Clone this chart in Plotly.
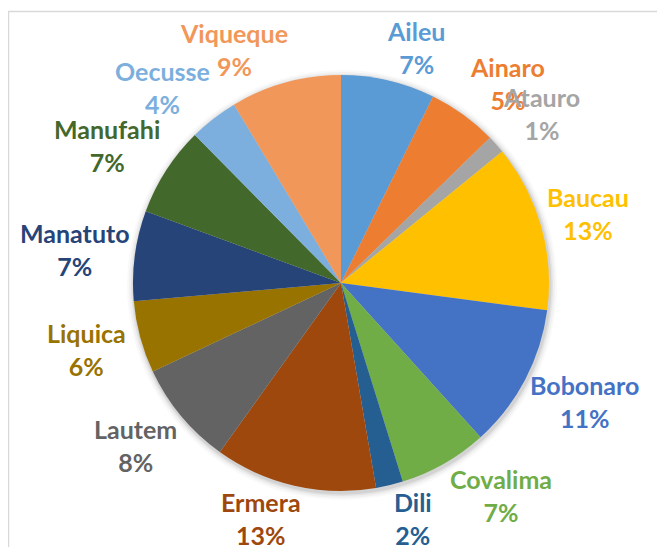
import math
import plotly.graph_objects as go

districts = ["Aileu", "Ainaro", "Atauro", "Baucau", "Bobonaro", "Covalima", "Dili",
             "Ermera", "Lautem", "Liquica", "Manatuto", "Manufahi", "Oecusse", "Viqueque"]
shares = [7.3, 5.4, 1.4, 13.0, 11.2, 6.9, 2.1, 12.6, 8.1, 5.6, 7.0, 7.0, 3.8, 8.6]
colors = ["#5B9BD5", "#ED7D31", "#A5A5A5", "#FFC000", "#4472C4", "#70AD47", "#255E91",
          "#9E480E", "#636363", "#997300", "#264478", "#43682B", "#7CAFDD", "#F1975A"]

# page is rendered with an 8px body margin -> work in figure pixels
OFF = 8
W, H = 665 - OFF, 547 - OFF
cx, cy, R = 341 - OFF, 283 - OFF, 208
FS = 25
RG = 215
LBL_H = 52
CHAR_W = 13.3


def clamp(t):
    return max(-1.0, min(1.0, t))


fig = go.Figure(go.Pie(
    labels=districts,
    values=shares,
    sort=False,
    direction="clockwise",
    rotation=0,
    marker=dict(colors=colors, line=dict(width=0)),
    textinfo="none",
    showlegend=False,
    hoverinfo="label+percent",
    domain=dict(x=[(cx - R) / W, (cx + R) / W], y=[(H - cy - R) / H, (H - cy + R) / H]),
))

# Data labels placed outside each slice, derived from the slice mid-angles
total = sum(shares)
annotations = []
cum = 0.0
for name, v, col in zip(districts, shares, colors):
    mid = (cum + v / 2) / total * 2 * math.pi
    cum += v
    pct = round(v / total * 100)
    s, c = math.sin(mid), math.cos(mid)
    w = CHAR_W * len(name)
    px = cx + RG * s + (w / 2) * clamp(3.5 * s)
    py = cy - RG * c - (LBL_H / 2) * clamp(1.5 * c)
    annotations.append(dict(
        x=px / W, y=1 - py / H, xref="paper", yref="paper",
        text=f"{name}<br>{pct}%", showarrow=False,
        xanchor="center", yanchor="middle", align="center",
        font=dict(family="Lato", size=FS, color=col, weight="bold"),
    ))

# soft shadow around the pie
shadow = []
for k, a in [(7, 0.025), (5, 0.035), (3, 0.05), (1.5, 0.07)]:
    shadow.append(dict(type="circle", xref="paper", yref="paper", layer="below",
                       x0=(cx - R - k + 1) / W, x1=(cx + R + k + 1) / W,
                       y0=1 - (cy + R + k + 2) / H, y1=1 - (cy - R - k + 2) / H,
                       line=dict(width=0), fillcolor=f"rgba(0,0,0,{a})"))

border = dict(type="rect", xref="paper", yref="paper",
              x0=0.5 / W, x1=1.05, y0=-0.05, y1=1 - 3.5 / H,
              line=dict(color="#D9D9D9", width=1.5), fillcolor="rgba(0,0,0,0)")

fig.update_layout(
    width=W, height=H,
    margin=dict(l=0, r=0, t=0, b=0),
    paper_bgcolor="white",
    annotations=annotations,
    shapes=shadow + [border],
)

fig.write_html("out.html")
